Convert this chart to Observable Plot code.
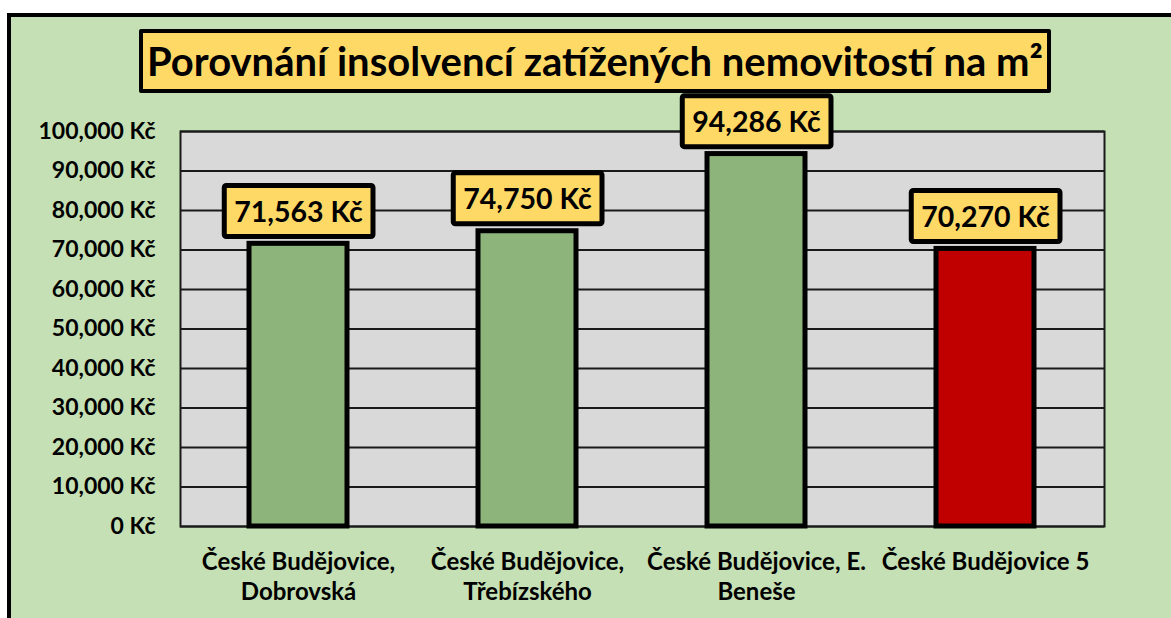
<!DOCTYPE html>
<html>
<head>
<meta charset="utf-8">
<script src="https://cdn.jsdelivr.net/npm/d3@7"></script>
<script src="https://cdn.jsdelivr.net/npm/@observablehq/plot@0.6"></script>
<style>
  html, body { margin: 0; padding: 0; background: #ffffff; width: 1171px; height: 618px; overflow: hidden; }
  #frame { position: absolute; left: 7px; top: 13px; width: 1300px; height: 800px; background: #c5e0b4; border: 4px solid #000; box-sizing: border-box; }
  #title { position: absolute; left: 139px; top: 29px; width: 912px; height: 64px; box-sizing: border-box;
    background: #ffd966; border: 4px solid #000; border-radius: 2px;
    font-family: Lato, "Open Sans", sans-serif; font-weight: 700; font-size: 40px; color: #000;
    display: flex; align-items: center; justify-content: center; white-space: nowrap; }
  #chart { position: absolute; left: 0; top: 0; }
</style>
</head>
<body>
<div id="frame"></div>
<div id="chart"></div>
<div id="title">Porovnání insolvencí zatížených nemovitostí na m²</div>
<script>
const categories = ["Dobrovská", "Třebízského", "E. Beneše", "5"];
const tickLabels = ["České Budějovice,\nDobrovská", "České Budějovice,\nTřebízského", "České Budějovice, E.\nBeneše", "České Budějovice 5"];
const values = [71563, 74750, 94286, 70270];
const barColors = ["#8db47a", "#8db47a", "#8db47a", "#c00000"];
const yTicks = [0, 10000, 20000, 30000, 40000, 50000, 60000, 70000, 80000, 90000, 100000];

const data = categories.map((c, i) => ({cat: c, value: values[i], color: barColors[i], label: tickLabels[i]}));
const fmt = d => d3.format(",")(d) + " Kč";
const labelOf = new Map(data.map(d => [d.cat, d.label]));

const chart = Plot.plot({
  width: 1171,
  height: 618,
  marginLeft: 180,
  marginRight: 67,
  marginTop: 131,
  marginBottom: 92,
  style: { background: "transparent", fontFamily: "Lato, 'Open Sans', sans-serif", fontWeight: 700, fontSize: "23px", color: "#000" },
  x: { domain: categories, paddingInner: 0.57, paddingOuter: 0.3, label: null },
  y: { domain: [0, 100000], label: null },
  marks: [
    Plot.frame({ fill: "#d9d9d9", stroke: "#1a1a1a", strokeWidth: 2 }),
    Plot.ruleY(yTicks, { stroke: "#1a1a1a", strokeWidth: 2 }),
    Plot.axisY({ ticks: yTicks, tickSize: 0, tickPadding: 25, tickFormat: fmt, fontSize: 23, fontWeight: 700, label: null }),
    Plot.axisX({ tickSize: 0, tickPadding: 22, tickFormat: d => labelOf.get(d), fontSize: 24, fontWeight: 700, lineHeight: 1.25, label: null }),
    Plot.barY(data, { x: "cat", y: "value", fill: "color", stroke: "#000", strokeWidth: 5 }),
    Plot.text(data, { x: "cat", y: "value", text: d => fmt(d.value), dy: -31, fontSize: 28.5, fontWeight: 700, fill: "#000", lineAnchor: "middle", className: "vlabel" })
  ]
});
document.getElementById("chart").appendChild(chart);

// yellow boxes behind the value labels
const g = chart.querySelector("g.vlabel");
if (g) {
  g.querySelectorAll("text").forEach(t => {
    const b = t.getBBox();
    const ctm = t.transform && t.transform.baseVal.consolidate();
    let tx = 0, ty = 0;
    if (ctm) { tx = ctm.matrix.e; ty = ctm.matrix.f; }
    const cy = b.y + b.height / 2;
    const r = document.createElementNS("http://www.w3.org/2000/svg", "rect");
    r.setAttribute("x", tx + b.x - 10);
    r.setAttribute("y", ty + cy - 25.5);
    r.setAttribute("width", b.width + 20);
    r.setAttribute("height", 51);
    r.setAttribute("rx", 2);
    r.setAttribute("fill", "#ffd966");
    r.setAttribute("stroke", "#000");
    r.setAttribute("stroke-width", 5);
    g.insertBefore(r, g.firstChild);
  });
}
</script>
</body>
</html>
